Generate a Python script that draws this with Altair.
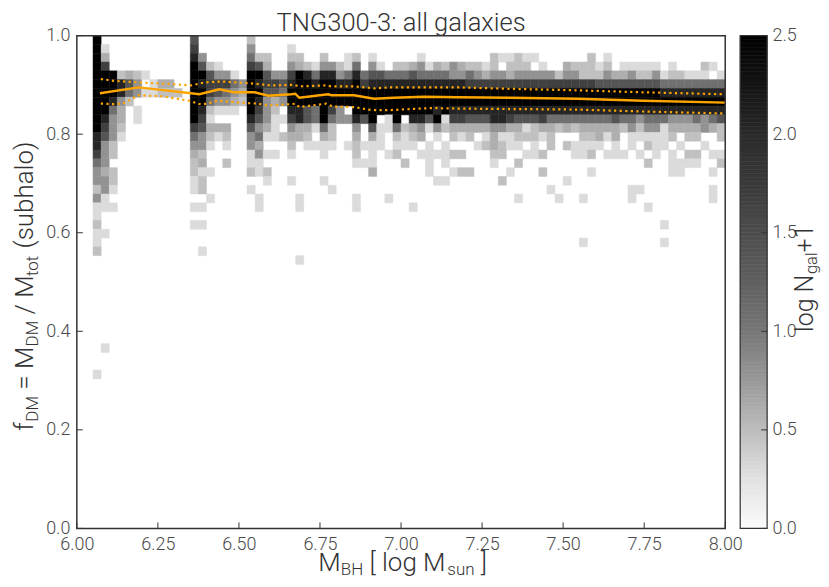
import altair as alt
import pandas as pd

TITLE = "TNG300-3: all galaxies"
FONT = "Roboto"
N_X, N_Y = 80, 56
X_MIN, X_MAX = 6.0, 8.0

# grey step of a cell -> value of the colour scale (log N + 1)
STEP_VALUE = {"1": 0.30, "2": 0.48, "3": 0.60, "4": 0.80, "5": 1.08,
              "6": 1.40, "7": 1.67, "8": 2.05, "9": 2.50}

# columns 2-25, each read from the top row downwards
LEFT_COLUMNS = {
    2: "9999999999988754424112112",
    3: ".13799999876444344 11..1".replace(" ", ""),
    4: "....99985444 22.221.1".replace(" ", ""),
    5: "....28843321",
    6: "....3652",
    7: "....244.11",
    8: "....1.1",
    9: ".....11",
    10: ".....32",
    11: ".....32",
    12: "......2",
    14: "678999999975432211.1.1",
    15: "..469899876442312 2.1.1..1".replace(" ", ""),
    16: "...267752132 1..1..1".replace(" ", ""),
    17: "...147641.31",
    18: "....47541.321.2",
    19: "....15431",
    20: ".....432",
    21: "245799999864411 2.1".replace(" ", ""),
    22: "..269898764534 11..11".replace(" ", ""),
    23: "..23676444 31.1.21".replace(" ", ""),
    24: "....4763211 1.1".replace(" ", ""),
    25: "....4654.1.2",
}

# rows for columns 26-79, groups: 26-29, 30-39, 40-49, 50-59, 60-69, 70-79
RIGHT_ROWS = {
    1: "1... .......... .......... .......... .......... ..........",
    2: "22.. 2..12.1... ..1....... .211211... ...2.1.... ..........",
    3: "4321 44215.41.2 2341324322 12.222.1.. 322212.111 11.1...21.",
    4: "7985 8845856655 5655554454 3443444442 4422243342 24122111.1",
    5: "8998 9988978888 8888888877 7777777777 7777666666 6655555555",
    6: "9999 9999999999 9999999999 9999999999 9999999999 9988888888",
    7: "9999 9999999999 9999999999 9999999999 9999999999 9999999999",
    8: "8865 974.999999 9999898888 8888888888 8888888888 8888888888",
    9: "7865 9544869.19 .886917766 6887666755 5555556554 5554445456",
    10: "4331 52..4.6115 2341423333 3443312332 3233333242 4413333432",
    11: "332. 32..3.31.2 123.1.212. 131122212. ..22313.11 1112.22..2",
    12: "2.11 11.12111.1 11.1.1...1 23211.1.2. 21111.1.1. 211.1..1..",
    13: "1... 1...2.1.12 ..111122.. .22..112.. .112.111.1 .1.1.22.11",
    14: ".... ....111... 2..1.1.... .1..2..... .......... 2..1111..2",
    15: ".... ......3... ...1..122. ...1...2.. ...1...... ...11...1.",
    16: "1... 1......... ....11.... ..2....... 1......... ..........",
    17: ".... .1........ .......... ........1. ........11 ........1.",
    18: ".1.. ....1...1. .......... ....1....1 ..1.....1. ........1.",
    19: ".1.. ....1..... .1........ .......... .......... 1.........",
    21: ".... .......... .......... .......... .......... ..1.......",
    23: ".... .......... .......... .......... ..1....... ..1.......",
    25: ".1.. .......... .......... .......... .......... ..........",
}

# lone low cells: (column, row)
LONE_CELLS = [(3, 35), (2, 38)]

MEAN_X = [6.071, 6.191, 6.378, 6.44, 6.486, 6.548, 6.591, 6.662, 6.674, 6.686, 6.775,
          6.785, 6.855, 6.917, 6.978, 7.071, 7.175, 7.338, 7.545, 7.748, 8.0]
MEAN_Y = [0.883, 0.895, 0.881, 0.891, 0.885, 0.885, 0.878, 0.881, 0.882, 0.874, 0.881,
          0.879, 0.879, 0.872, 0.874, 0.876, 0.875, 0.874, 0.872, 0.868, 0.864]
P84_X = [6.074, 6.117, 6.194, 6.283, 6.354, 6.394, 6.446, 6.538, 6.6, 6.662, 6.671, 6.686,
         6.769, 6.785, 6.855, 6.917, 6.969, 7.175, 7.338, 7.545, 7.748, 8.0]
P84_Y = [0.912, 0.908, 0.905, 0.902, 0.899, 0.905, 0.907, 0.903, 0.899, 0.900, 0.900, 0.897,
         0.899, 0.897, 0.897, 0.893, 0.895, 0.895, 0.892, 0.889, 0.885, 0.881]
P16_X = [6.074, 6.117, 6.145, 6.191, 6.262, 6.345, 6.385, 6.437, 6.498, 6.56, 6.591, 6.662,
         6.674, 6.686, 6.769, 6.791, 6.855, 6.908, 6.969, 7.0, 7.092, 7.175, 7.338, 7.545, 7.748, 8.0]
P16_Y = [0.862, 0.861, 0.863, 0.879, 0.877, 0.868, 0.860, 0.868, 0.864, 0.862, 0.858, 0.861,
         0.862, 0.855, 0.862, 0.856, 0.855, 0.849, 0.849, 0.850, 0.853, 0.852, 0.851, 0.850, 0.846, 0.842]

X_TICKS = [6.0, 6.25, 6.5, 6.75, 7.0, 7.25, 7.5, 7.75, 8.0]
Y_TICKS = [0.0, 0.2, 0.4, 0.6, 0.8, 1.0]
BAR_TICKS = [0.0, 0.5, 1.0, 1.5, 2.0, 2.5]
COLOR_STOPS = [0.0, 0.25, 0.5, 0.75, 1.0, 1.25, 1.5, 1.75, 2.0, 2.25, 2.5]
COLOR_GREYS = ["#fbfbfb", "#e2e2e2", "#bdbdbd", "#999999", "#777777", "#606060",
               "#4d4d4d", "#3a3a3a", "#2a2a2a", "#141414", "#000000"]

cells = []


def add_cell(col, row, step):
    if step in STEP_VALUE:
        cells.append({
            "x": X_MIN + col * (X_MAX - X_MIN) / N_X,
            "x2": X_MIN + (col + 1) * (X_MAX - X_MIN) / N_X,
            "y": 1 - row / N_Y,
            "y2": 1 - (row + 1) / N_Y,
            "v": STEP_VALUE[step],
        })


for col, text in LEFT_COLUMNS.items():
    for row, step in enumerate(text):
        add_cell(col, row, step)
for row, text in RIGHT_ROWS.items():
    for i, step in enumerate(text.replace(" ", "")):
        add_cell(26 + i, row, step)
for col, row in LONE_CELLS:
    add_cell(col, row, "1")

color_scale = alt.Scale(domain=COLOR_STOPS, range=COLOR_GREYS, clamp=True)
W, H = 650, 494
BAR_W = 27
BIG = 26
SMALL = 17
TICK_SIZE = 18


def frag(text, px, py, size, angle=0, color="#333333"):
    return alt.Chart(pd.DataFrame({"t": [text]})).mark_text(
        font=FONT, fontWeight=300, fontSize=size, color=color, align="left",
        baseline="alphabetic", angle=angle
    ).encode(x=alt.value(px), y=alt.value(py), text="t:N")


x_scale = alt.Scale(domain=[X_MIN, X_MAX], nice=False, zero=False, padding=0)
y_scale = alt.Scale(domain=[0, 1], nice=False, padding=0)


def axis(values, fmt, padding=7, **kw):
    return alt.Axis(values=values, format=fmt, title=None, ticks=False, domain=False, grid=False,
                    labelFlush=False, labelOverlap=False, labelFont=FONT, labelFontWeight=300,
                    labelFontSize=TICK_SIZE, labelColor="#4a4a4a", labelPadding=padding, **kw)


heat = alt.Chart(pd.DataFrame(cells)).mark_rect(strokeWidth=0.5).encode(
    x=alt.X("x:Q", scale=x_scale, axis=axis(X_TICKS, ".2f")),
    x2="x2:Q",
    y=alt.Y("y:Q", scale=y_scale, axis=axis(Y_TICKS, ".1f")),
    y2="y2:Q",
    color=alt.Color("v:Q", scale=color_scale, legend=None),
    stroke=alt.Color("v:Q", scale=color_scale, legend=None),
)


def line(xs, ys, **kw):
    return alt.Chart(pd.DataFrame({"x": xs, "y": ys})).mark_line(
        color="#ffa500", clip=True, **kw
    ).encode(x=alt.X("x:Q", scale=x_scale), y=alt.Y("y:Q", scale=y_scale), order=alt.Order("x:Q"))


mean_line = line(MEAN_X, MEAN_Y, strokeWidth=2.4)
p84_line = line(P84_X, P84_Y, strokeWidth=2.2, strokeDash=[2.2, 3.4])
p16_line = line(P16_X, P16_Y, strokeWidth=2.2, strokeDash=[2.2, 3.4])

x_ticks = alt.Chart(pd.DataFrame({"x": X_TICKS})).mark_rule(color="#333333", strokeWidth=1).encode(
    x=alt.X("x:Q", scale=x_scale), y=alt.value(H), y2=alt.value(H - 6))
y_ticks = alt.Chart(pd.DataFrame({"y": Y_TICKS})).mark_rule(color="#333333", strokeWidth=1).encode(
    y=alt.Y("y:Q", scale=y_scale), x=alt.value(0), x2=alt.value(6))

frame = alt.Chart(pd.DataFrame({"a": [0]})).mark_rect(
    fillOpacity=0, stroke="#333333", strokeWidth=1.5
).encode(x=alt.value(0), x2=alt.value(W), y=alt.value(0), y2=alt.value(H))

Y_BASE = -44
Y_SUB = -39
X_BASE = 537
X_SUB = 540.5
main = alt.layer(
    heat, mean_line, p84_line, p16_line, x_ticks, y_ticks, frame,
    frag("f", Y_BASE, 396, BIG, 270),
    frag("DM", Y_SUB, 387, SMALL, 270),
    frag("= M", Y_BASE, 355, BIG, 270),
    frag("DM", Y_SUB, 311.6, SMALL, 270),
    frag("/ M", Y_BASE, 279.5, BIG, 270),
    frag("tot", Y_SUB, 241, SMALL, 270),
    frag("(subhalo)", Y_BASE, 213.5, BIG, 270),
    frag("M", 242, X_BASE, BIG),
    frag("BH", 264.6, X_SUB, SMALL),
    frag("[ log M", 293.4, X_BASE, BIG),
    frag("sun", 371.4, X_SUB, SMALL),
    frag("]", 405, X_BASE, BIG),
).properties(
    width=W, height=H,
    title=alt.TitleParams(TITLE, font=FONT, fontWeight=300, fontSize=25.6, color="#333333",
                          anchor="middle", offset=-10),
)

# colour bar: a fine ladder of the scale's own values
bar_levels = [round(i * 0.02, 2) for i in range(125)]
bar_scale = alt.Scale(domain=[0, 2.5], nice=False, padding=0)
bar_df = pd.DataFrame({"y": bar_levels, "y2": [round(v + 0.02, 2) for v in bar_levels]})
bar_df["v"] = bar_df["y"] + 0.01
bar_cells = alt.Chart(bar_df).mark_rect(strokeWidth=0.6).encode(
    x=alt.value(0), x2=alt.value(BAR_W),
    y=alt.Y("y:Q", scale=bar_scale, axis=axis(BAR_TICKS, ".1f", padding=5, orient="right")),
    y2="y2:Q",
    color=alt.Color("v:Q", scale=color_scale, legend=None),
    stroke=alt.Color("v:Q", scale=color_scale, legend=None),
)
bar_ticks = alt.Chart(pd.DataFrame({"y": BAR_TICKS})).mark_rule(color="#333333", strokeWidth=1).encode(
    y=alt.Y("y:Q", scale=bar_scale), x=alt.value(BAR_W - 6), x2=alt.value(BAR_W))
bar_frame = alt.Chart(pd.DataFrame({"a": [0]})).mark_rect(
    fillOpacity=0, stroke="#333333", strokeWidth=1.2
).encode(x=alt.value(0), x2=alt.value(BAR_W), y=alt.value(0), y2=alt.value(H))

colorbar = alt.layer(
    bar_cells, bar_ticks, bar_frame,
    frag("log N", 73, 297, 25, 270),
    frag("gal", 77, 239, 16.5, 270),
    frag("+1", 73, 217.5, 25, 270),
).properties(width=BAR_W, height=H)

chart = alt.hconcat(main, colorbar, spacing=15, bounds="flush").properties(
    padding={"left": 4, "top": 2, "right": 0, "bottom": 0}
).configure_view(stroke=None).resolve_scale(color="shared")

chart.save("out.html", embed_options={"renderer": "svg", "actions": False})
